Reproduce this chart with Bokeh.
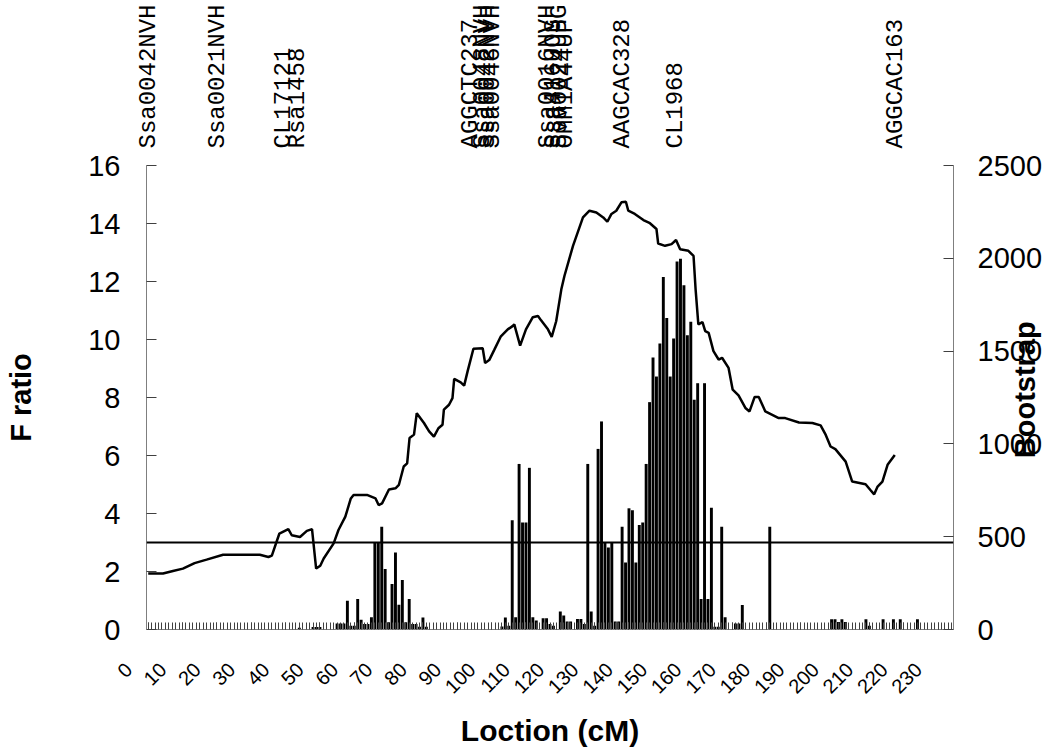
import math
from bokeh.plotting import figure
from bokeh.models import Range1d, LinearAxis, FixedTicker, Span
from bokeh.embed import file_html
from bokeh.resources import INLINE

# F ratio curve (location in cM, F value)
loc = [0, 4.3, 7.2, 10.1, 13.5, 17, 21.8, 32.5, 35, 36, 38.2, 40.8, 41.8, 44.2, 46.2, 47.7,
       48.9, 50.1, 51.1, 54, 55.4, 57.4, 59, 59.8, 63.7, 66.2, 67.1, 68.1, 70.1, 72, 73,
       74.4, 75.4, 76.1, 77.4, 78.2, 80.3, 81.8, 83.2, 84.5, 85.7, 86.1, 87.6, 88.6, 89.1,
       91, 92, 93, 94.7, 97.4, 98.1, 99.3, 100.8, 102.7, 104.7, 106.1, 106.6, 108.3, 110,
       112, 113.5, 114.4, 116.4, 117.5, 118.8, 120.3, 121.2, 123.7, 126.6, 128.5, 130.5,
       132.5, 133.7, 134.9, 136.3, 137.8, 139.1, 139.8, 141.7, 144.2, 146.1, 148, 148.5,
       150.5, 152.4, 153.7, 154.9, 157.3, 158.8, 159.4, 160.2, 161.4, 162.2, 163.2, 164.6,
       166.1, 167.1, 169, 170.2, 171.9, 173.9, 175.1, 176.6, 177.8, 179.7, 183.6, 185.5,
       189.5, 193.4, 195.8, 197.3, 198.7, 200.1, 203.1, 205, 208.9, 210.3, 211.4, 212.4,
       213.8, 215.3, 217.4]
f_ratio = [1.93, 1.93, 2.02, 2.10, 2.29, 2.41, 2.58, 2.58, 2.50, 2.55, 3.31, 3.46, 3.25, 3.19,
           3.40, 3.46, 2.10, 2.20, 2.45, 2.97, 3.43, 3.89, 4.52, 4.64, 4.64, 4.52, 4.29, 4.35,
           4.83, 4.87, 4.99, 5.62, 5.73, 6.60, 6.72, 7.46, 7.12, 6.83, 6.65, 6.94, 7.06, 7.58,
           7.75, 7.98, 8.64, 8.52, 8.41, 8.90, 9.68, 9.70, 9.19, 9.29, 9.65, 10.11, 10.35,
           10.46, 10.52, 9.79, 10.35, 10.77, 10.81, 10.66, 10.35, 10.09, 10.63, 11.73, 12.19,
           13.23, 14.21, 14.44, 14.38, 14.21, 14.06, 14.33, 14.44, 14.73, 14.75, 14.44, 14.33,
           14.12, 14.01, 13.81, 13.31, 13.23, 13.29, 13.43, 13.11, 13.06, 12.88, 11.73, 10.52,
           10.60, 10.29, 10.23, 9.60, 9.31, 9.37, 9.02, 8.27, 8.07, 7.64, 7.52, 8.02, 8.02,
           7.52, 7.29, 7.29, 7.14, 7.12, 7.04, 6.71, 6.31, 6.22, 5.79, 5.10, 5.01, 4.81, 4.66,
           4.93, 5.10, 5.68, 6.02]

# Bootstrap counts per 1 cM class
boot_loc = [44, 48, 49, 50, 55, 56, 57, 58, 59, 60, 61, 62, 63, 64, 65, 66, 67, 68, 69, 70,
            71, 72, 73, 74, 75, 76, 77, 78, 79, 80, 81, 103, 104, 105, 106, 107, 108, 109,
            110, 111, 112, 113, 115, 116, 117, 118, 120, 121, 122, 123, 125, 126, 127, 128,
            129, 130, 131, 132, 133, 134, 135, 136, 137, 138, 139, 140, 141, 142, 143, 144,
            145, 146, 147, 148, 149, 150, 151, 152, 153, 154, 155, 156, 157, 158, 159, 160,
            161, 162, 163, 164, 165, 166, 167, 168, 171, 172, 173, 181, 199, 200, 201, 202,
            203, 209, 210, 214, 217, 219, 224]
boot = [10, 14, 14, 14, 32, 32, 32, 155, 20, 20, 165, 52, 30, 30, 66, 468, 468, 553, 326, 39,
        245, 415, 134, 267, 39, 165, 30, 30, 15, 64, 15, 16, 64, 20, 588, 66, 892, 576,
        576, 871, 66, 48, 61, 61, 30, 20, 97, 75, 43, 43, 57, 57, 30, 892,
        97, 20, 973, 1121, 468, 442, 468, 43, 43, 553, 361, 653, 642, 361, 563, 576,
        892, 1225, 1465, 1363, 1541, 1899, 1679, 1363, 1568, 1983, 1997, 1855, 1586, 1658, 1238, 1327,
        165, 1327, 165, 656, 15, 15, 553, 66, 32, 32, 132, 553, 55, 55, 40, 55,
        40, 55, 20, 55, 55, 55, 55]

threshold = 3.0

marker_loc = [0, 20.2, 39.4, 43.5, 93.9, 97.3, 98.8, 100.3, 116.3, 118.0, 119.8, 121.5,
              138.1, 153.5, 217.6]
marker_names = ["Ssa0042NVH", "Ssa0021NVH", "CL17121", "Rsa1458", "AGGCTC237",
                "Ssa0048NVH", "Ssa0042NVH", "Ssa0046NVH", "Ssa0016NVH", "Ssa416UOS",
                "Ssa0024UHG", "OMM1A44UP", "AAGCAC328", "CL1968", "AGGCAC163"]

x_ticks = list(range(0, 231, 10))
x_minor = list(range(0, 235))
f_ticks = list(range(0, 17, 2))
boot_ticks = [0, 500, 1000, 1500, 2000, 2500]
boot_title_at = 923   # where the rotated "Bootstrap" title starts on the right scale

FONT = "Liberation Sans"
PAD = "\u00a0" * 5    # rotated x labels end a little left of their category, as in Excel

p = figure(width=1062, height=755, output_backend="svg", toolbar_location=None,
           x_range=Range1d(-0.5, 234.5), y_range=Range1d(0, 16),
           min_border_left=146, min_border_right=109, min_border_top=165,
           min_border_bottom=126)
p.outline_line_color = None
p.xgrid.visible = False
p.ygrid.visible = False
p.extra_y_ranges = {"boot": Range1d(0, 2500)}

p.vbar(x=boot_loc, top=boot, width=0.85, y_range_name="boot",
       fill_color="black", line_color=None)
p.line(loc, f_ratio, line_color="black", line_width=2.5)
p.add_layout(Span(location=threshold, dimension="width", line_color="black", line_width=2))

axis_col = "#7f7f7f"
tick_col = "#404040"

# bottom axis
xa = p.xaxis[0]
xa.ticker = FixedTicker(ticks=x_ticks, minor_ticks=x_minor)
xa.major_label_overrides = {t: f"{t}{PAD}" for t in x_ticks}
xa.major_label_orientation = math.pi / 4
xa.major_label_text_font = FONT
xa.major_label_text_font_size = "20px"
xa.major_label_text_color = "black"
xa.major_label_standoff = 17
xa.major_tick_in = 7
xa.major_tick_out = 0
xa.minor_tick_in = 7
xa.minor_tick_out = 0
xa.axis_line_color = axis_col
xa.major_tick_line_color = tick_col
xa.minor_tick_line_color = tick_col
xa.axis_label = "Loction (cM)"
xa.axis_label_text_font = FONT
xa.axis_label_text_font_style = "bold"
xa.axis_label_text_font_size = "30px"
xa.axis_label_text_color = "black"
xa.axis_label_standoff = 6

# left axis
ya = p.yaxis[0]
ya.ticker = FixedTicker(ticks=f_ticks)
ya.minor_tick_line_color = None
ya.major_tick_in = 10
ya.major_tick_out = 0
ya.axis_line_color = axis_col
ya.major_tick_line_color = tick_col
ya.major_label_text_font = FONT
ya.major_label_text_font_size = "29px"
ya.major_label_text_color = "black"
ya.major_label_standoff = 26
ya.axis_label = "F ratio"
ya.axis_label_text_font = FONT
ya.axis_label_text_font_style = "bold"
ya.axis_label_text_font_size = "29px"
ya.axis_label_text_color = "black"
ya.axis_label_standoff = 48

# right axis
ra = LinearAxis(y_range_name="boot", ticker=FixedTicker(ticks=boot_ticks))
ra.minor_tick_line_color = None
ra.major_tick_in = 10
ra.major_tick_out = 0
ra.axis_line_color = axis_col
ra.major_tick_line_color = tick_col
ra.major_label_text_font = FONT
ra.major_label_text_font_size = "29px"
ra.major_label_text_color = "black"
ra.major_label_standoff = 24
p.add_layout(ra, "right")

# right axis title (overlaps the tick labels, as in the original)
rt = LinearAxis(y_range_name="boot", ticker=FixedTicker(ticks=[boot_title_at]))
rt.major_label_overrides = {boot_title_at: "Bootstrap"}
rt.major_label_orientation = math.pi / 2
rt.major_label_text_font = FONT
rt.major_label_text_font_style = "bold"
rt.major_label_text_font_size = "29px"
rt.major_label_text_color = "black"
rt.major_label_standoff = -26
rt.axis_line_color = None
rt.major_tick_line_color = None
rt.minor_tick_line_color = None
p.add_layout(rt, "right")

# marker names above
ma = LinearAxis(ticker=FixedTicker(ticks=marker_loc))
ma.major_label_overrides = {k: v for k, v in zip(marker_loc, marker_names)}
ma.major_label_orientation = "vertical"
ma.major_label_text_font = "Liberation Mono"
ma.major_label_text_font_size = "24px"
ma.major_label_text_color = "black"
ma.major_label_standoff = 11
ma.axis_line_color = None
ma.major_tick_line_color = None
ma.minor_tick_line_color = None
p.add_layout(ma, "above")

open("out.html", "w").write(file_html(p, INLINE))
